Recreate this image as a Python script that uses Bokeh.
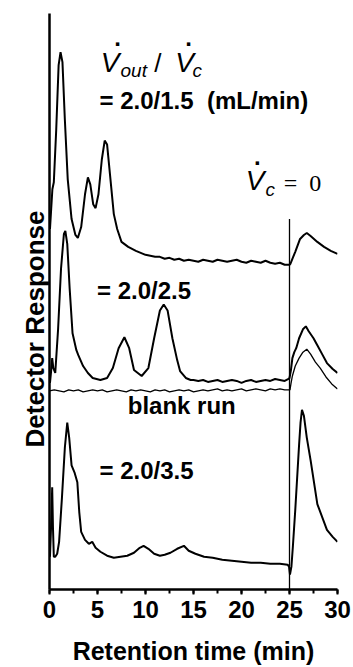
from bokeh.plotting import figure
from bokeh.models import Label, Range1d, SingleIntervalTicker, FixedTicker, Title
from bokeh.embed import file_html
from bokeh.resources import INLINE

# ---------------- data (retention time in min, detector response in arbitrary units) ----------------
x_ticks_interval = 5
x_tick_labels = ["0", "5", "10", "15", "20", "25", "30"]

# Vdot_out / Vdot_c = 2.0/1.5 mL/min
t_15 = [0.05, 0.3, 0.45, 0.7, 0.95, 1.15, 1.35, 1.6, 1.9, 2.3, 2.7, 2.95, 3.3, 3.7, 4.0, 4.25, 4.55, 4.8,
        5.1, 5.45, 5.75, 6.0, 6.3, 6.7, 7.05, 7.5, 8.2, 9.0,
        9.5, 10, 10.5, 11, 11.5, 12, 12.5, 13, 13.5, 14, 14.5, 15, 15.5, 16, 16.5, 17, 17.5, 18, 18.5,
        19, 19.5, 20, 20.5, 21, 21.5, 22, 22.5, 23, 23.5, 24, 24.5, 24.9,
        25.0, 25.1, 25.3, 25.6, 26.1, 26.5, 26.8, 27.2, 27.9, 28.6, 29.3, 30]
r_15 = [363, 403, 410, 463, 528, 541, 531, 473, 413, 373, 357, 354, 365, 398, 415, 408, 388, 384,
        398, 433, 452, 448, 418, 378, 363, 350, 345, 341,
        339, 337, 336, 335, 335, 333, 334, 332, 333, 331, 332, 331, 330, 332, 331, 330, 332, 331, 330,
        331, 332, 330, 329, 331, 330, 329, 331, 329, 328, 329, 327, 327,
        327, 328, 333, 340, 353, 357, 359, 356, 350, 345, 341, 338]

# 2.0/2.5
t_25 = [0.05, 0.15, 0.28, 0.4, 0.6, 0.9, 1.2, 1.5, 1.65, 1.85, 2.1, 2.4, 2.8, 3.0, 3.5, 4.0, 4.5, 5.3,
        6.0, 6.6, 7.2, 7.8, 8.3, 8.8, 9.6, 10.3, 10.9, 11.5, 11.9, 12.3, 12.8, 13.3, 13.6, 14.2, 14.7,
        15, 15.5, 16, 16.5, 17, 17.5, 18, 18.5, 19, 19.5, 20, 20.5, 21, 21.5, 22, 22.5, 23, 23.5, 24,
        24.5, 24.9,
        25.0, 25.15, 25.3, 25.5, 25.7, 26.0, 26.4, 26.7, 27.0, 27.5, 27.9, 28.4, 28.9, 29.5, 30]
r_25 = [208, 218, 233, 223, 218, 263, 323, 358, 361, 348, 303, 258, 241, 236, 225, 218, 213, 211,
        213, 223, 243, 254, 243, 221, 215, 223, 253, 281, 287, 281, 253, 231, 220, 213, 211,
        211, 210, 211, 209, 210, 211, 209, 210, 211, 210, 208, 210, 211, 209, 210, 211, 210, 212, 211,
        210, 212,
        213, 221, 233, 239, 243, 253, 262, 265, 260, 253, 246, 237, 228, 222, 218]

# blank run
t_blank = [0, 0.5, 1, 1.5, 2, 2.5, 3, 3.5, 4, 4.5, 5, 5.5, 6, 6.5, 7, 7.5, 8, 8.5, 9, 9.5,
           10, 10.5, 11, 11.5, 12, 12.5, 13, 13.5, 14, 14.5, 15, 15.5, 16, 16.5, 17, 17.5, 18, 18.5,
           19, 19.5, 20, 20.5, 21, 21.5, 22, 22.5, 23, 23.5, 24, 24.5, 24.9,
           25.05, 25.15, 25.3, 25.6, 26.0, 26.4, 26.8, 27.2, 27.7, 28.2, 28.8, 29.4, 30]
r_blank = [200, 201, 200, 199, 201, 200, 201, 199, 200, 201, 200, 201, 199, 200, 201, 200, 199, 201, 200, 201,
           200, 199, 201, 200, 201, 199, 200, 201, 200, 201, 199, 200, 201, 200, 201, 202, 200, 201,
           200, 201, 202, 200, 201, 202, 201, 200, 202, 201, 202, 201, 201,
           201, 207, 215, 225, 233, 239, 242, 237, 229, 223, 214, 207, 202]

# 2.0/3.5
t_35 = [0.05, 0.2, 0.28, 0.36, 0.45, 0.6, 0.8, 1.0, 1.3, 1.6, 1.85, 2.05, 2.3, 2.6, 2.9, 3.1, 3.3, 3.7,
        4.1, 4.45, 4.8, 5.3, 6.0, 6.7, 7.4, 8.1, 8.8, 9.4, 9.8, 10.3, 10.9, 11.5, 12.0, 12.6, 13.3,
        14.0, 14.5, 15.2, 16.1, 17, 18, 19, 20, 21, 22, 23, 24, 24.8, 24.95,
        25.05, 25.2, 25.35, 25.6, 25.8, 26.0, 26.15, 26.3, 26.5, 26.8, 27.2, 27.9, 28.9, 29.5, 30]
r_35 = [33, 73, 103, 63, 33, 33, 36, 48, 93, 143, 168, 153, 125, 118, 108, 78, 58, 50,
        46, 48, 42, 38, 34, 32, 33, 34, 37, 42, 44, 41, 36, 34, 35, 37, 41,
        44, 39, 36, 33, 32, 30, 29, 28, 27, 27, 26, 26, 25, 23,
        15, 23, 43, 80, 113, 146, 168, 181, 175, 153, 130, 86, 60, 53, 48]

# column-flow switch-off marker (Vdot_c = 0)
switch_time = [25, 25]
switch_resp = [0, 373]

# ---------------- figure ----------------
SANS = "Liberation Sans"
SERIF = "Liberation Serif"
NB = "\u00a0"

p = figure(width=353, height=667, x_range=Range1d(0, 30), y_range=Range1d(0, 580),
           output_backend="svg", toolbar_location=None,
           min_border_left=49, min_border_right=16, min_border_top=13, min_border_bottom=74)
p.outline_line_color = None
p.xgrid.visible = False
p.ygrid.visible = False
p.background_fill_color = "white"
p.border_fill_color = "white"

# x axis
p.xaxis.ticker = SingleIntervalTicker(interval=x_ticks_interval, num_minor_ticks=2)
p.xaxis.major_label_overrides = {i * x_ticks_interval: lab for i, lab in enumerate(x_tick_labels)}
p.xaxis.axis_line_width = 2.5
p.xaxis.axis_line_color = "black"
p.xaxis.major_tick_in = 0
p.xaxis.major_tick_out = 5
p.xaxis.minor_tick_in = 0
p.xaxis.minor_tick_out = 4
p.xaxis.major_tick_line_width = 2
p.xaxis.minor_tick_line_width = 2
p.xaxis.major_tick_line_color = "black"
p.xaxis.minor_tick_line_color = "black"
p.xaxis.major_label_standoff = 6
p.xaxis.major_label_text_font = SANS
p.xaxis.major_label_text_font_style = "bold"
p.xaxis.major_label_text_font_size = "24px"
p.xaxis.major_label_text_color = "black"
p.xaxis.axis_label = "Retention time (min)"
p.xaxis.axis_label_text_font = SANS
p.xaxis.axis_label_text_font_style = "bold"
p.xaxis.axis_label_text_font_size = "25px"
p.xaxis.axis_label_text_color = "black"
p.xaxis.axis_label_standoff = 16

# y axis: line only (invisible tick extent reserves the gap before the title)
p.yaxis.ticker = FixedTicker(ticks=[])
p.yaxis.axis_line_width = 2.5
p.yaxis.axis_line_color = "black"
p.yaxis.major_tick_line_color = None
p.yaxis.minor_tick_line_color = None
p.yaxis.major_tick_in = 0
p.yaxis.major_tick_out = 22
p.yaxis.minor_tick_in = 0
p.yaxis.minor_tick_out = 0
p.yaxis.major_label_standoff = 0
p.yaxis.axis_label_standoff = 0
p.yaxis.major_label_text_font_size = "0px"

# y title (left-side title so it can be shifted along the axis)
p.add_layout(Title(text="Detector Response", align="left", offset=142, standoff=0,
                   text_font=SANS, text_font_style="bold", text_font_size="26px",
                   text_color="black"), "left")

# traces
p.line(t_15, r_15, line_color="black", line_width=2)
p.line(t_25, r_25, line_color="black", line_width=2)
p.line(t_blank, r_blank, line_color="black", line_width=1.3)
p.line(t_35, r_35, line_color="black", line_width=2)
p.line(switch_time, switch_resp, line_color="black", line_width=1.3)


def lab(x, y, text, size, font=SANS, style="bold", align="left", baseline="alphabetic"):
    p.add_layout(Label(x=x, y=y, text=text, text_font=font, text_font_size=size,
                       text_font_style=style, text_align=align, text_baseline=baseline,
                       text_color="black"))


# header: Vdot_out / Vdot_c
lab(5.35, 531, "V", "28px", style="italic")
lab(7.08, 556, ".", "24px", style="bold", align="center")
lab(7.4, 523, "out", "19px", style="italic")
lab(10.9, 530, "/", "26px", style="normal")
lab(13.1, 531, "V", "28px", style="italic")
lab(14.48, 556, ".", "24px", style="bold", align="center")
lab(14.9, 523, "c", "19px", style="italic")

# condition labels
lab(5.21, 492, "= 2.0/1.5" + NB * 2 + "(mL/min)", "24px")
lab(4.95, 301, "= 2.0/2.5", "24px")
lab(8.15, 185, "blank run", "24px")
lab(5.21, 120, "= 2.0/3.5", "24px")

# Vdot_c = 0
lab(20.45, 412, "V", "28px", style="italic")
lab(21.65, 436, ".", "24px", style="bold", align="center")
lab(22.5, 403, "c", "19px", style="italic")
lab(24.4, 409, "=" + NB * 2 + "0", "24px", font=SERIF, style="normal")

open("out.html", "w").write(file_html(p, INLINE))
